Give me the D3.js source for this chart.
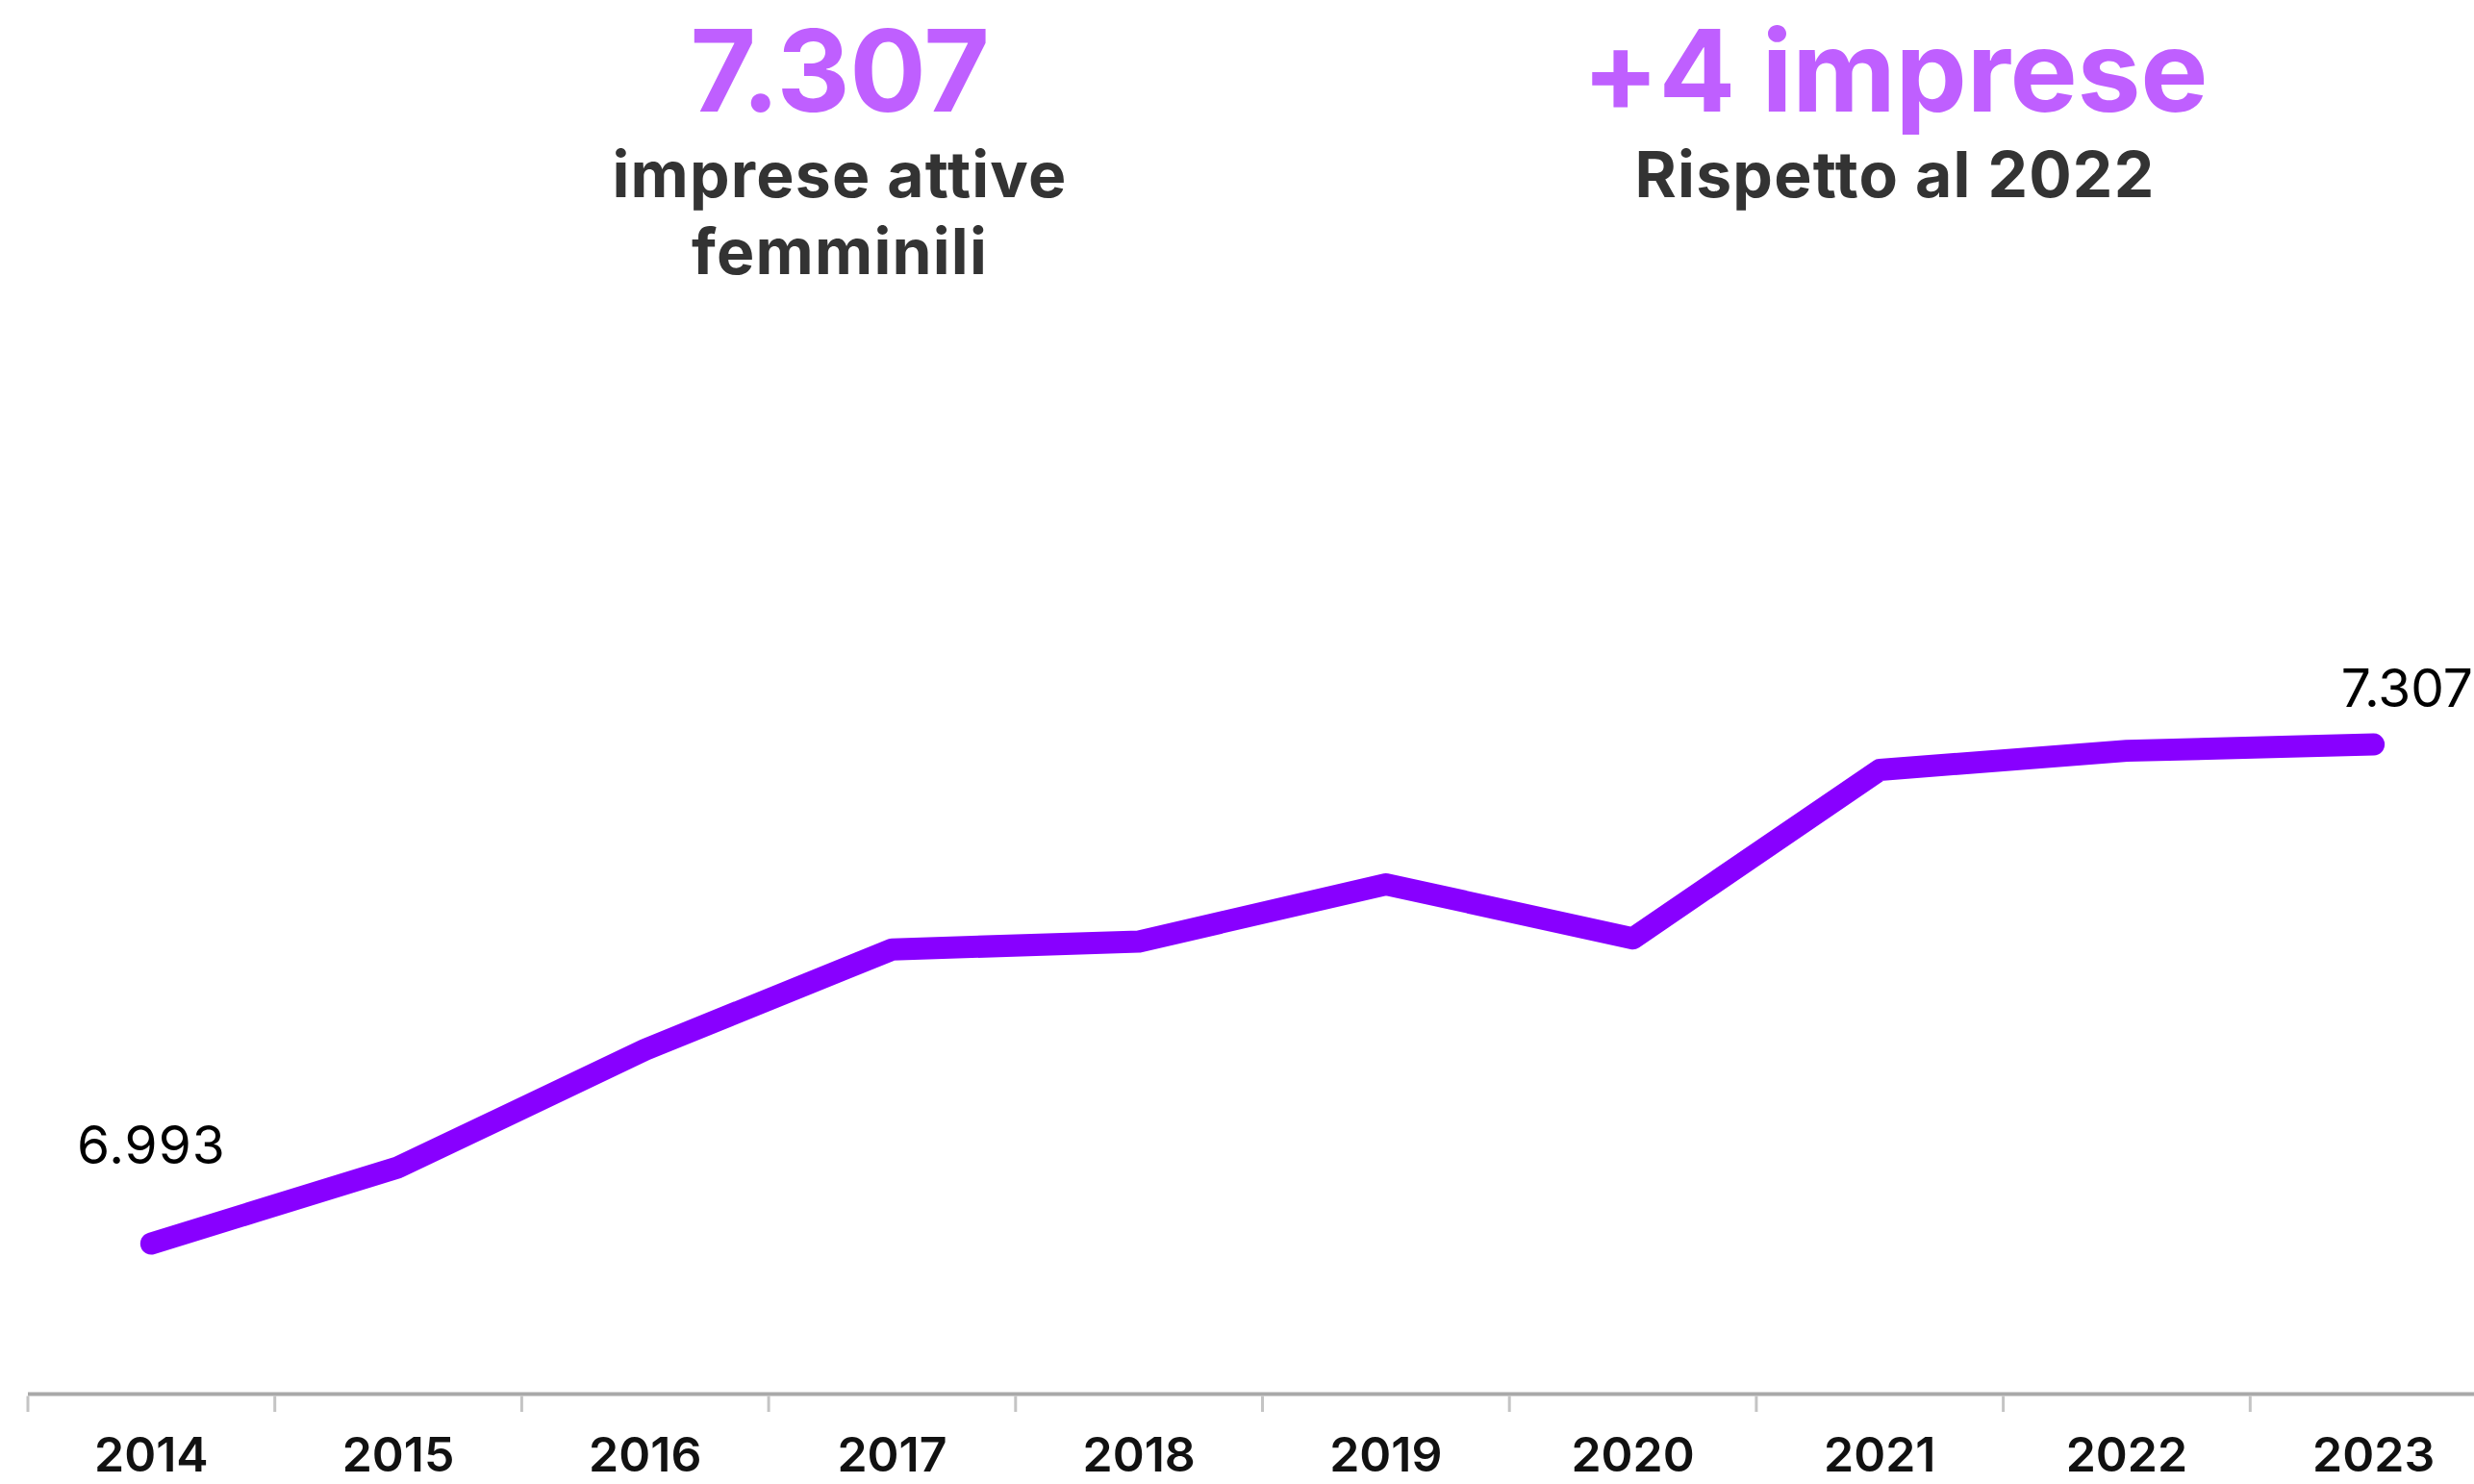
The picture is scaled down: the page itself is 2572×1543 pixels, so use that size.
<!DOCTYPE html>
<html lang="it">
<head>
<meta charset="utf-8">
<title>Imprese attive femminili 2014–2023</title>
<script src="https://cdn.jsdelivr.net/npm/d3@7"></script>
<style>
  html, body { margin: 0; padding: 0; background: #ffffff; }
  svg { display: block; }
  text { font-family: Inter, "Noto Sans", "Liberation Sans", sans-serif; }
</style>
</head>
<body>
<script>
// Imprese attive femminili per anno
const years = ["2014", "2015", "2016", "2017", "2018", "2019", "2020", "2021", "2022", "2023"];
const imprese = [6993, 7041, 7115, 7178, 7183, 7219, 7185, 7291, 7303, 7307];

// Riquadri di sintesi in testa al grafico
const headlineValues = ["7.307", "+4 imprese"];
const headlineCaptions = [["imprese attive", "femminili"], ["Rispetto al 2022"]];

const W = 2572, H = 1543;
const fmt = d3.formatLocale({ decimal: ",", thousands: ".", grouping: [3], currency: ["€", ""] }).format(",d");

const svg = d3.select("body").append("svg")
  .attr("width", W).attr("height", H)
  .attr("viewBox", `0 0 ${W} ${H}`);

// Scale
const x = d3.scaleBand().domain(years).range([29, 2596]).paddingInner(0).paddingOuter(0);
const y = d3.scaleLinear().domain([6900, 7400]).range([1446.7, 620.3]);
const cx = d => x(d) + x.bandwidth() / 2;

// Asse orizzontale: linea di base, tacche ai bordi delle bande, etichette al centro
const axisY = 1449.5;
const axisG = svg.append("g").attr("class", "x-axis");
axisG.append("line")
  .attr("x1", x.range()[0]).attr("x2", x.range()[1])
  .attr("y1", axisY).attr("y2", axisY)
  .attr("stroke", "#a9a9a9").attr("stroke-width", 4);
axisG.selectAll("line.tick")
  .data(years)
  .join("line")
  .attr("class", "tick")
  .attr("x1", d => x(d)).attr("x2", d => x(d))
  .attr("y1", axisY + 2).attr("y2", 1468)
  .attr("stroke", "#c4c4c4").attr("stroke-width", 3);
axisG.selectAll("text.tick-label")
  .data(years)
  .join("text")
  .attr("class", "tick-label")
  .attr("x", d => cx(d))
  .attr("y", 1530)
  .attr("text-anchor", "middle")
  .attr("font-size", 50)
  .attr("font-weight", 600)
  .attr("fill", "#111111")
  .text(d => d);

// Linea della serie
const data = years.map((yr, i) => ({ year: yr, value: imprese[i] }));
const line = d3.line()
  .x(d => cx(d.year))
  .y(d => y(d.value))
  .curve(d3.curveLinear);

svg.append("path")
  .datum(data)
  .attr("d", line)
  .attr("fill", "none")
  .attr("stroke", "#8800ff")
  .attr("stroke-width", 23)
  .attr("stroke-linecap", "round")
  .attr("stroke-linejoin", "round");

// Valori al primo e all'ultimo anno
const first = data[0], last = data[data.length - 1];
svg.append("text")
  .attr("x", cx(first.year))
  .attr("y", y(first.value) - 83)
  .attr("text-anchor", "middle")
  .attr("font-size", 55)
  .attr("letter-spacing", 1)
  .attr("fill", "#000000")
  .text(fmt(first.value));
svg.append("text")
  .attr("x", W - 1)
  .attr("y", y(last.value) - 39)
  .attr("text-anchor", "end")
  .attr("font-size", 55)
  .attr("fill", "#000000")
  .text(fmt(last.value));

// Riquadri di sintesi
const headlineX = [873, 1970];
headlineValues.forEach((v, i) => {
  const g = svg.append("g").attr("class", "headline");
  g.append("text")
    .attr("x", headlineX[i]).attr("y", 116)
    .attr("text-anchor", "middle")
    .attr("font-size", 118)
    .attr("font-weight", 700)
    .attr("letter-spacing", -0.3)
    .attr("fill", "#bf5fff")
    .text(v);
  headlineCaptions[i].forEach((c, j) => {
    g.append("text")
      .attr("x", headlineX[i]).attr("y", 205 + j * 80)
      .attr("text-anchor", "middle")
      .attr("font-size", 66)
      .attr("font-weight", 700)
      .attr("letter-spacing", 1.2)
      .attr("fill", "#333333")
      .text(c);
  });
});
</script>
</body>
</html>
